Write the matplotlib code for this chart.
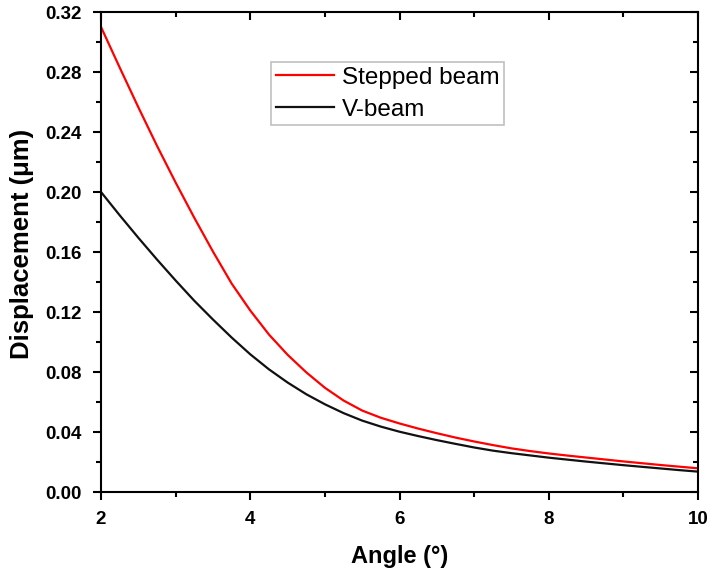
# Displacement vs angle for stepped beam and V-beam.
import matplotlib
matplotlib.use('Agg')
import matplotlib.pyplot as plt
from matplotlib.ticker import MultipleLocator

plt.rcParams['font.family'] = ['Liberation Sans', 'DejaVu Sans']

# Values (every 0.25 degree).
angle = [2.0, 2.25, 2.5, 2.75, 3.0, 3.25, 3.5, 3.75, 4.0, 4.25, 4.5, 4.75, 5.0,
         5.25, 5.5, 5.75, 6.0, 6.25, 6.5, 6.75, 7.0, 7.25, 7.5, 7.75, 8.0,
         8.25, 8.5, 8.75, 9.0, 9.25, 9.5, 9.75, 10.0]
stepped_beam = [0.310, 0.283, 0.2565, 0.2308, 0.2063, 0.1828, 0.1603, 0.1390, 0.1210,
                0.1050, 0.0915, 0.0798, 0.0695, 0.0610, 0.0543, 0.0495, 0.0457,
                0.0423, 0.0392, 0.0363, 0.0337, 0.0313, 0.0291, 0.0273, 0.0257,
                0.0243, 0.0230, 0.0217, 0.0204, 0.0192, 0.0180, 0.0169, 0.0158]
v_beam = [0.200, 0.1845, 0.1695, 0.1550, 0.1410, 0.1275, 0.1150, 0.1030, 0.0918,
          0.0818, 0.0730, 0.0652, 0.0585, 0.0526, 0.0476, 0.0436, 0.0402,
          0.0373, 0.0346, 0.0321, 0.0297, 0.0276, 0.0259, 0.0244, 0.0229,
          0.0216, 0.0203, 0.0191, 0.0179, 0.0168, 0.0157, 0.0146, 0.0136]

fig = plt.figure(figsize=(7.13, 5.76), dpi=100)
ax = fig.add_axes([0.1417, 0.1458, 0.8373, 0.8333])

ax.plot(angle, stepped_beam, color='#ff0000', lw=1.6, label='Stepped beam')
ax.plot(angle, v_beam, color='#111111', lw=1.6, label='V-beam')

ax.set_xlim(2, 10)
ax.set_ylim(0, 0.32)
ax.xaxis.set_major_locator(MultipleLocator(2))
ax.xaxis.set_minor_locator(MultipleLocator(1))
ax.yaxis.set_major_locator(MultipleLocator(0.04))
ax.yaxis.set_minor_locator(MultipleLocator(0.02))
ax.yaxis.set_major_formatter(plt.FuncFormatter(lambda v, p: f'{v:.2f}'))

for s in ax.spines.values():
    s.set_linewidth(1.5)

# Outward ticks on bottom/left, inward on top/right (Origin style).
ax.tick_params(which='both', direction='out', width=1.5, labelsize=13.5, pad=8)
ax.tick_params(which='major', length=6)
ax.tick_params(which='minor', length=3.5)
sec_x = ax.secondary_xaxis('top')
sec_y = ax.secondary_yaxis('right')
for sec in (sec_x, sec_y):
    sec.tick_params(which='both', direction='in', width=1.5, labelleft=False,
                    labelright=False, labeltop=False, labelbottom=False)
    sec.tick_params(which='major', length=6)
    sec.tick_params(which='minor', length=3.5)
    sec.spines[:].set_visible(False)
sec_x.xaxis.set_major_locator(MultipleLocator(2))
sec_x.xaxis.set_minor_locator(MultipleLocator(1))
sec_y.yaxis.set_major_locator(MultipleLocator(0.04))
sec_y.yaxis.set_minor_locator(MultipleLocator(0.02))

for lab in ax.get_xticklabels() + ax.get_yticklabels():
    lab.set_fontweight('bold')

ax.set_xlabel('Angle (°)', fontsize=17, fontweight='bold')
ax.set_ylabel('Displacement (μm)', fontsize=18.5, fontweight='bold')
ax.xaxis.set_label_coords(0.5, -0.11)
ax.yaxis.set_label_coords(-0.112, 0.517)

leg = ax.legend(loc='upper left', bbox_to_anchor=(0.285, 0.896), borderaxespad=0,
                fontsize=17.5, frameon=True, fancybox=False, handlelength=2.4,
                handletextpad=0.3, borderpad=0.2, labelspacing=0.4)
leg.get_frame().set_edgecolor('#b0b0b0')
leg.get_frame().set_linewidth(1.2)

fig.savefig('out.png', dpi=100)
